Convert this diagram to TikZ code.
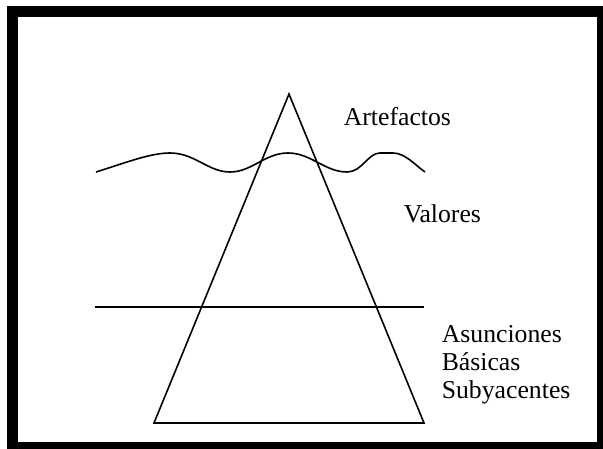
\documentclass[tikz,border=0pt]{standalone}
\usepackage{fontspec}
\setmainfont{Liberation Serif}
\begin{document}
\begin{tikzpicture}[x=0.75pt,y=-0.75pt,line width=1.2pt,
    capa/.style={anchor=base west,inner sep=0pt,align=left,
      font=\fontsize{19.3}{21}\selectfont}]
  \useasboundingbox (0,0) rectangle (603,449);
  \draw[line width=8.25pt] (12.5,12) rectangle (602.5,447.5);
  % piramide
  \coordinate (cima) at (289,94);
  \coordinate (baseizq) at (154,423);
  \coordinate (baseder) at (424,423);
  \draw[line join=miter] (cima) -- (baseizq) -- (baseder) -- cycle;
  % linea ondulada y linea recta
  \coordinate (ondaizq) at (96,172);
  \coordinate (ondader) at (425,172);
  \draw (ondaizq) .. controls (125,163) and (150,153) .. (170,153)
    .. controls (195,153) and (208,172) .. (230,172)
    .. controls (252,172) and (265,153) .. (288,153)
    .. controls (311,153) and (325,172) .. (347,172)
    .. controls (362,172) and (368,153) .. (380,153)
    -- (393,153)
    .. controls (405,153) and (415,165) .. (ondader);
  \coordinate (rectaizq) at (95,307);
  \coordinate (rectader) at (424,307);
  \draw (rectaizq) -- (rectader);
  % niveles
  \node[capa] (artefactos) at (343,126) {Artefactos};
  \node[capa] (valores) at (403,223) {Valores};
  \node[capa] (asunciones) at (441,398) {Asunciones\\Básicas\\Subyacentes};
\end{tikzpicture}
\end{document}
